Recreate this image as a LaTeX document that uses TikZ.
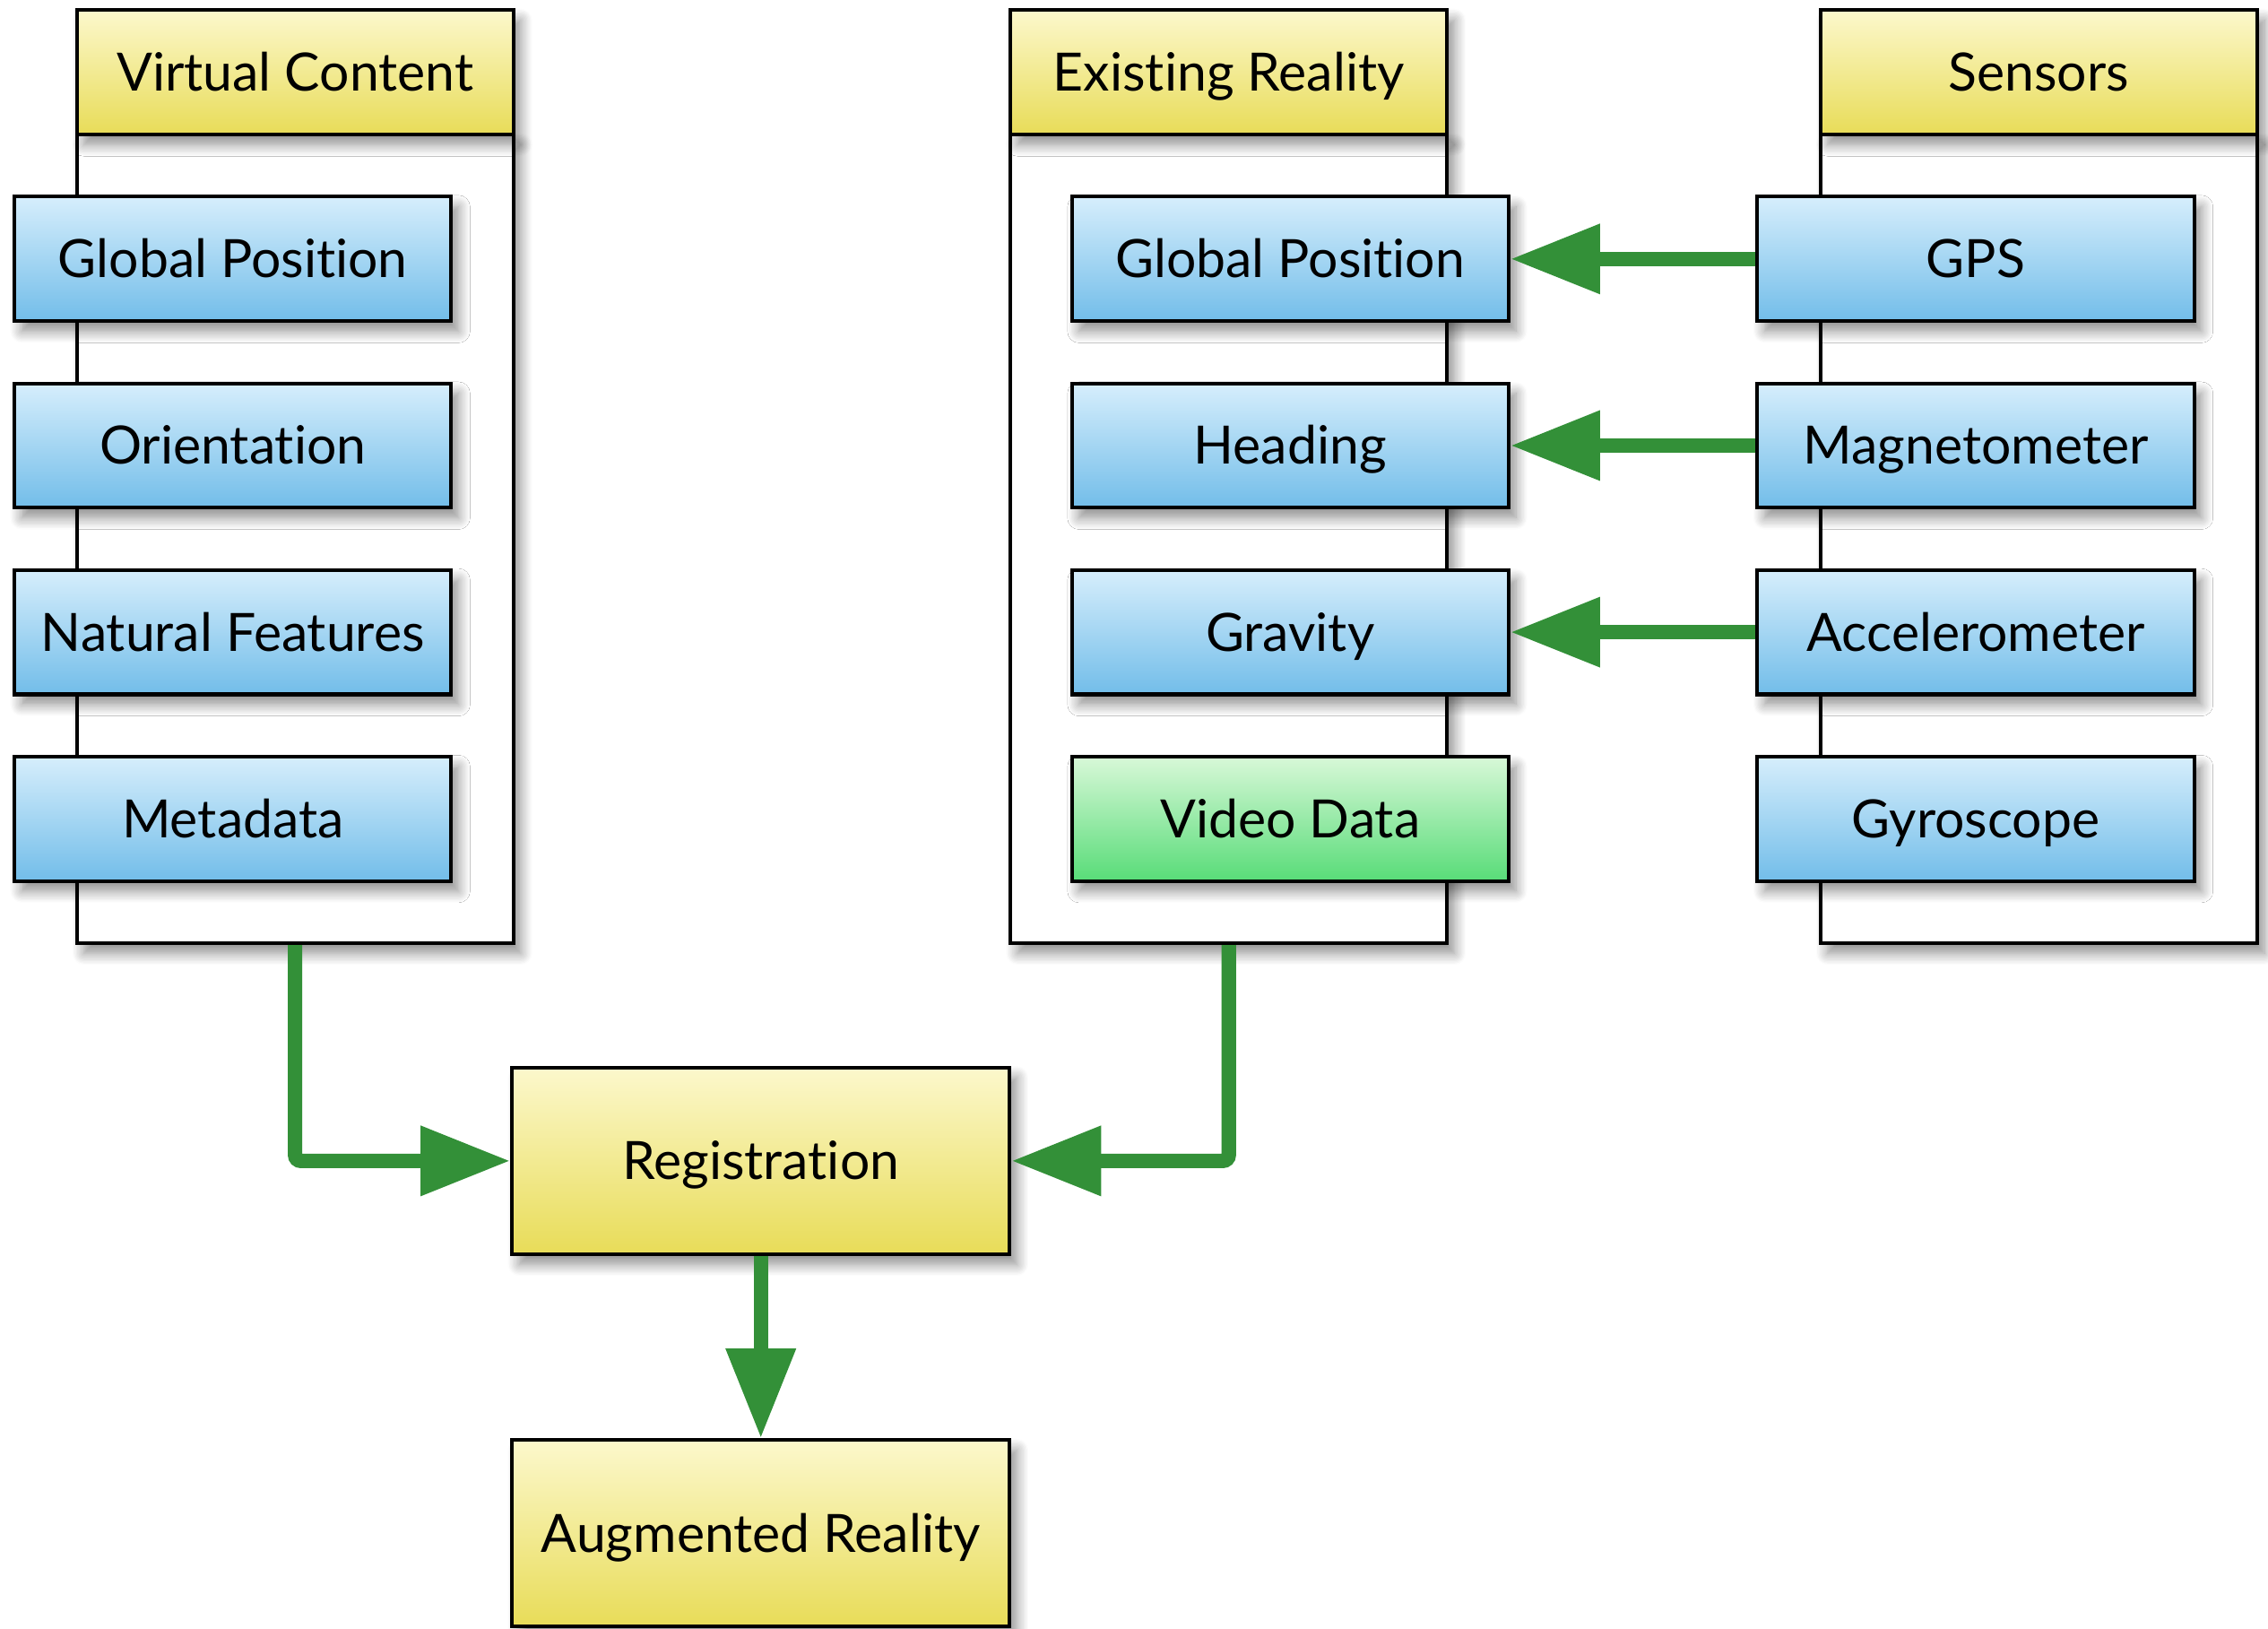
\documentclass[tikz,border=0pt]{standalone}
\usepackage{fontspec}
\setmainfont{Lato}[Ligatures=NoCommon]
\usetikzlibrary{arrows.meta,shadows,shadows.blur}
\definecolor{hdtop}{HTML}{FCF8CC}
\definecolor{hdbot}{HTML}{E8DC58}
\definecolor{bltop}{HTML}{D6EEFC}
\definecolor{blbot}{HTML}{72BDE9}
\definecolor{grtop}{HTML}{D8F8D8}
\definecolor{grbot}{HTML}{58DC78}
\definecolor{arrowgreen}{HTML}{339038}
\tikzset{
  boxbase/.style={draw=black, line width=2.5pt, inner sep=0pt, font=\fontsize{36.5}{42}\selectfont,
    text height=34pt, text depth=8pt,
    blur shadow={shadow xshift=5pt, shadow yshift=-7pt, shadow blur steps=10, shadow blur radius=8pt, shadow opacity=45}},
  header/.style={boxbase, minimum width=302pt, minimum height=86pt, top color=hdtop, bottom color=hdbot},
  body/.style={boxbase, fill=white, minimum width=302pt, minimum height=559pt},
  item/.style={boxbase, minimum width=302pt, minimum height=86pt, top color=bltop, bottom color=blbot},
  gitem/.style={boxbase, minimum width=302pt, minimum height=86pt, top color=grtop, bottom color=grbot},
  bigbox/.style={boxbase, minimum width=344pt, minimum height=129pt, top color=hdtop, bottom color=hdbot},
  flow/.style={draw=arrowgreen, line width=10pt, rounded corners=4pt,
    -{Triangle[length=62pt,width=46pt]}}
}
\begin{document}
\begin{tikzpicture}[x=1pt,y=-1pt]
\useasboundingbox (0,0) rectangle (1568,1126);
% containers
\node[body] (vcb) at (204,372.5) {};
\node[header] (vch) at (204,50) {Virtual Content};
\node[body] (erb) at (849.5,372.5) {};
\node[header] (erh) at (849.5,50) {Existing Reality};
\node[body] (snb) at (1409.5,372.5) {};
\node[header] (snh) at (1409.5,50) {Sensors};
% left items
\node[item] (vc1) at (161,179) {Global Position};
\node[item] (vc2) at (161,308) {Orientation};
\node[item] (vc3) at (161,437) {Natural Features};
\node[item] (vc4) at (161,566) {Metadata};
% middle items
\node[item] (er1) at (892,179) {Global Position};
\node[item] (er2) at (892,308) {Heading};
\node[item] (er3) at (892,437) {Gravity};
\node[gitem] (er4) at (892,566) {Video Data};
% right items
\node[item] (sn1) at (1366,179) {GPS};
\node[item] (sn2) at (1366,308) {Magnetometer};
\node[item] (sn3) at (1366,437) {Accelerometer};
\node[item] (sn4) at (1366,566) {Gyroscope};
% lower
\node[bigbox] (reg) at (526,802.5) {Registration};
\node[bigbox] (ar) at (526,1060) {Augmented Reality};
% connectors
\draw[flow] (sn1.west) -- (er1.east);
\draw[flow] (sn2.west) -- (er2.east);
\draw[flow] (sn3.west) -- (er3.east);
\draw[flow] (vcb.south) |- (reg.west);
\draw[flow] (erb.south) |- (reg.east);
\draw[flow] (reg.south) -- (ar.north);
\end{tikzpicture}
\end{document}
